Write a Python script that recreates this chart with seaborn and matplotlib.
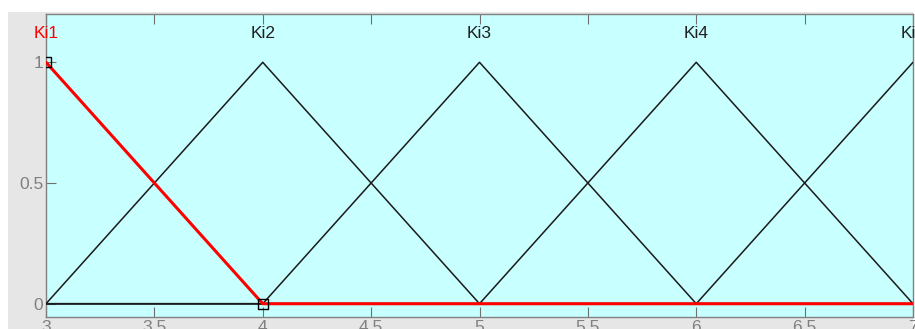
import matplotlib
matplotlib.use("Agg")
import matplotlib.pyplot as plt
import seaborn as sns
import pandas as pd
from matplotlib.patches import Rectangle

# Membership functions of the input variable Ki (triangular, vertex lists)
mf_names = ["Ki1", "Ki2", "Ki3", "Ki4", "Ki5"]
mf_x = [
    [3, 4, 7],
    [3, 4, 5, 7],
    [3, 4, 5, 6, 7],
    [3, 5, 6, 7],
    [3, 6, 7],
]
mf_y = [
    [1, 0, 0],
    [0, 1, 0, 0],
    [0, 0, 1, 0, 0],
    [0, 0, 1, 0],
    [0, 0, 1],
]
mf_peaks = [3, 4, 5, 6, 7]
selected = "Ki1"
# vertices of the selected function shown as handles
handle_x = [3, 4]
handle_y = [1, 0]

x_ticks = [3, 3.5, 4, 4.5, 5, 5.5, 6, 6.5, 7]
x_tick_labels = ["3", "3.5", "4", "4.5", "5", "5.5", "6", "6.5", "7"]
y_ticks = [0, 0.5, 1]
y_tick_labels = ["0", "0.5", "1"]

rows = []
for name, xs, ys in zip(mf_names, mf_x, mf_y):
    for i, (xv, yv) in enumerate(zip(xs, ys)):
        rows.append({"mf": name, "order": i, "x": xv, "y": yv})
df = pd.DataFrame(rows)

sns.set_style("white")
plt.rcParams["font.family"] = ["Liberation Sans", "DejaVu Sans"]

fig = plt.figure(figsize=(9.15, 3.29), dpi=100, facecolor="white")
# grey panel behind the axes
panel = Rectangle((8 / 915, 0), (913 - 8) / 915, 1 - 12 / 329,
                  transform=fig.transFigure, facecolor="#e6e6e6",
                  edgecolor="none", zorder=-10)
fig.patches.append(panel)
ax = fig.add_axes([46 / 915, 12 / 329, (913 - 46) / 915, (315 - 12) / 329])
ax.set_zorder(1)
ax.set_facecolor("#c8ffff")

others = df[df["mf"] != selected]
sns.lineplot(data=others, x="x", y="y", units="mf", estimator=None, sort=False,
             color="#1a1a1a", linewidth=1.1, ax=ax, zorder=3)
sel = df[df["mf"] == selected]
sns.lineplot(data=sel, x="x", y="y", estimator=None, sort=False,
             color="#ff0000", linewidth=2.2, ax=ax, zorder=4)
sns.scatterplot(x=handle_x, y=handle_y, marker="s", s=50, facecolor="none",
                edgecolor="black", linewidth=1.0, ax=ax, zorder=5)

for name, px in zip(mf_names, mf_peaks):
    ax.text(px, 1.12, name, ha="center", va="center", fontsize=12.5,
            color="#ff0000" if name == selected else "#202020",
            clip_on=False)

ax.set_xlim(3, 7)
ax.set_ylim(-0.055, 1.2)
ax.set_xticks(x_ticks)
ax.set_xticklabels(x_tick_labels)
ax.set_yticks(y_ticks)
ax.set_yticklabels(y_tick_labels)
ax.set_xlabel("")
ax.set_ylabel("")
ax.tick_params(axis="both", direction="in", length=7, width=0.8,
               colors="#707070", labelcolor="#808080", labelsize=12.5,
               top=True, bottom=True, left=True, right=False)
ax.tick_params(axis="x", pad=2)
ax.tick_params(axis="y", pad=2)
for side in ["left", "right", "top", "bottom"]:
    ax.spines[side].set_visible(True)
    ax.spines[side].set_color("#808080")
    ax.spines[side].set_linewidth(1.0)

fig.savefig("out.png", dpi=100, facecolor=fig.get_facecolor())
